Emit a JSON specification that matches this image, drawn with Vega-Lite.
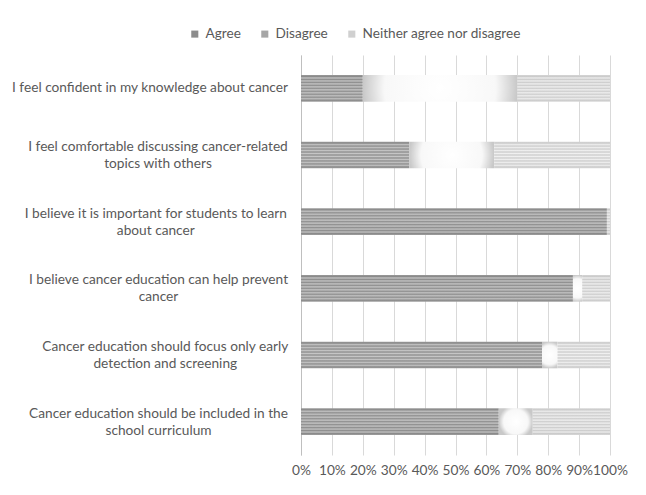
{
  "$schema": "https://vega.github.io/schema/vega-lite/v6.json",
  "width": 309,
  "height": 400,
  "autosize": {"type": "none"},
  "padding": {"left": 301, "top": 55, "right": 36, "bottom": 40},
  "background": "white",
  "data": {
    "values": [
      {"statement": "I feel confident in my knowledge about cancer", "response": "Agree", "pct": 20},
      {"statement": "I feel confident in my knowledge about cancer", "response": "Disagree", "pct": 50},
      {"statement": "I feel confident in my knowledge about cancer", "response": "Neither agree nor disagree", "pct": 30},
      {"statement": "I feel comfortable discussing cancer-related topics with others", "response": "Agree", "pct": 35},
      {"statement": "I feel comfortable discussing cancer-related topics with others", "response": "Disagree", "pct": 27.5},
      {"statement": "I feel comfortable discussing cancer-related topics with others", "response": "Neither agree nor disagree", "pct": 37.5},
      {"statement": "I believe it is important for students to learn about cancer", "response": "Agree", "pct": 99},
      {"statement": "I believe it is important for students to learn about cancer", "response": "Disagree", "pct": 0},
      {"statement": "I believe it is important for students to learn about cancer", "response": "Neither agree nor disagree", "pct": 1},
      {"statement": "I believe cancer education can help prevent cancer", "response": "Agree", "pct": 88},
      {"statement": "I believe cancer education can help prevent cancer", "response": "Disagree", "pct": 3},
      {"statement": "I believe cancer education can help prevent cancer", "response": "Neither agree nor disagree", "pct": 9},
      {"statement": "Cancer education should focus only early detection and screening", "response": "Agree", "pct": 78},
      {"statement": "Cancer education should focus only early detection and screening", "response": "Disagree", "pct": 5},
      {"statement": "Cancer education should focus only early detection and screening", "response": "Neither agree nor disagree", "pct": 17},
      {"statement": "Cancer education should be included in the school curriculum", "response": "Agree", "pct": 64},
      {"statement": "Cancer education should be included in the school curriculum", "response": "Disagree", "pct": 11},
      {"statement": "Cancer education should be included in the school curriculum", "response": "Neither agree nor disagree", "pct": 25}
    ]
  },
  "mark": {"type": "bar"},
  "encoding": {
    "y": {
      "field": "statement",
      "type": "nominal",
      "sort": null,
      "scale": {"paddingInner": 0.6, "paddingOuter": 0.3},
      "axis": {
        "title": null,
        "ticks": false,
        "domain": true,
        "domainColor": "#bfbfbf",
        "labelAlign": "center",
        "labelLimit": 320,
        "labelLineHeight": 17,
        "labelPadding": {
          "condition": [
            {"test": "datum.value == 'I feel confident in my knowledge about cancer'", "value": 151.5},
            {"test": "datum.value == 'I feel comfortable discussing cancer-related topics with others'", "value": 143.5},
            {"test": "datum.value == 'I believe it is important for students to learn about cancer'", "value": 145.7},
            {"test": "datum.value == 'I believe cancer education can help prevent cancer'", "value": 143},
            {"test": "datum.value == 'Cancer education should focus only early detection and screening'", "value": 136.2}
          ],
          "value": 143
        },
        "labelOffset": {
          "condition": {"test": "datum.value == 'I feel confident in my knowledge about cancer'", "value": 0},
          "value": -8
        },
        "labelExpr": "datum.value == 'I feel comfortable discussing cancer-related topics with others' ? ['I feel comfortable discussing cancer-related', 'topics with others'] : datum.value == 'I believe it is important for students to learn about cancer' ? ['I believe it is important for students to learn', 'about cancer'] : datum.value == 'I believe cancer education can help prevent cancer' ? ['I believe cancer education can help prevent', 'cancer'] : datum.value == 'Cancer education should focus only early detection and screening' ? ['Cancer education should focus only early', 'detection and screening'] : datum.value == 'Cancer education should be included in the school curriculum' ? ['Cancer education should be included in the', 'school curriculum'] : datum.value"
      }
    },
    "x": {
      "field": "pct",
      "type": "quantitative",
      "stack": "zero",
      "scale": {"domain": [0, 100], "nice": false},
      "axis": {
        "title": null,
        "values": [0, 10, 20, 30, 40, 50, 60, 70, 80, 90, 100],
        "labelExpr": "datum.value + '%'",
        "domain": false,
        "ticks": false,
        "grid": true,
        "gridColor": "#d9d9d9",
        "labelPadding": 8,
        "labelFlush": false
      }
    },
    "color": {
      "condition": [
        {
          "test": "datum.response == 'Agree'",
          "value": {
            "gradient": "linear", "x1": 0, "y1": 0, "x2": 0, "y2": 1,
            "stops": [
              {"offset": 0, "color": "#9a9a9a"},
              {"offset": 0.0556, "color": "#8a8a8a"},
              {"offset": 0.1111, "color": "#c2c2c2"},
              {"offset": 0.1667, "color": "#8e8e8e"},
              {"offset": 0.2222, "color": "#c2c2c2"},
              {"offset": 0.2778, "color": "#8e8e8e"},
              {"offset": 0.3333, "color": "#c4c4c4"},
              {"offset": 0.3889, "color": "#8e8e8e"},
              {"offset": 0.4444, "color": "#c6c6c6"},
              {"offset": 0.5, "color": "#8e8e8e"},
              {"offset": 0.5556, "color": "#c6c6c6"},
              {"offset": 0.6111, "color": "#8e8e8e"},
              {"offset": 0.6667, "color": "#c4c4c4"},
              {"offset": 0.7222, "color": "#8e8e8e"},
              {"offset": 0.7778, "color": "#c2c2c2"},
              {"offset": 0.8333, "color": "#8e8e8e"},
              {"offset": 0.8889, "color": "#c0c0c0"},
              {"offset": 0.9444, "color": "#8a8a8a"},
              {"offset": 1, "color": "#a0a0a0"}
            ]
          }
        },
        {
          "test": "datum.response == 'Disagree'",
          "value": {
            "gradient": "radial", "x1": 0.5, "y1": 0.5, "r1": 0, "x2": 0.5, "y2": 0.5, "r2": 0.5,
            "stops": [
              {"offset": 0, "color": "#ffffff"},
              {"offset": 0.72, "color": "#f8f8f8"},
              {"offset": 1, "color": "#c8c8c8"}
            ]
          }
        },
        {
          "test": "datum.response == 'Neither agree nor disagree'",
          "value": {
            "gradient": "linear", "x1": 0, "y1": 0, "x2": 0, "y2": 1,
            "stops": [
              {"offset": 0, "color": "#d6d6d6"},
              {"offset": 0.0556, "color": "#cbcbcb"},
              {"offset": 0.1111, "color": "#ececec"},
              {"offset": 0.1667, "color": "#cdcdcd"},
              {"offset": 0.2222, "color": "#eeeeee"},
              {"offset": 0.2778, "color": "#cdcdcd"},
              {"offset": 0.3333, "color": "#efefef"},
              {"offset": 0.3889, "color": "#cdcdcd"},
              {"offset": 0.4444, "color": "#f0f0f0"},
              {"offset": 0.5, "color": "#cdcdcd"},
              {"offset": 0.5556, "color": "#f0f0f0"},
              {"offset": 0.6111, "color": "#cdcdcd"},
              {"offset": 0.6667, "color": "#efefef"},
              {"offset": 0.7222, "color": "#cdcdcd"},
              {"offset": 0.7778, "color": "#eeeeee"},
              {"offset": 0.8333, "color": "#cdcdcd"},
              {"offset": 0.8889, "color": "#ececec"},
              {"offset": 0.9444, "color": "#cbcbcb"},
              {"offset": 1, "color": "#d8d8d8"}
            ]
          }
        }
      ],
      "field": "response",
      "type": "nominal",
      "scale": {
        "domain": ["Agree", "Disagree", "Neither agree nor disagree"],
        "range": ["#8c8c8c", "#a6a6a6", "#d0d0d0"]
      },
      "legend": {
        "title": null,
        "orient": "none",
        "direction": "horizontal",
        "legendX": -113,
        "legendY": -28,
        "symbolType": "square",
        "symbolSize": 50,
        "symbolStrokeWidth": 0,
        "columnPadding": 17,
        "labelOffset": 4
      }
    }
  },
  "config": {
    "font": "Lato",
    "view": {"stroke": null},
    "axis": {
      "labelFont": "Lato",
      "labelFontSize": 13.7,
      "labelColor": "#595959"
    },
    "legend": {
      "labelFont": "Lato",
      "labelFontSize": 13.6,
      "labelColor": "#595959"
    }
  }
}
